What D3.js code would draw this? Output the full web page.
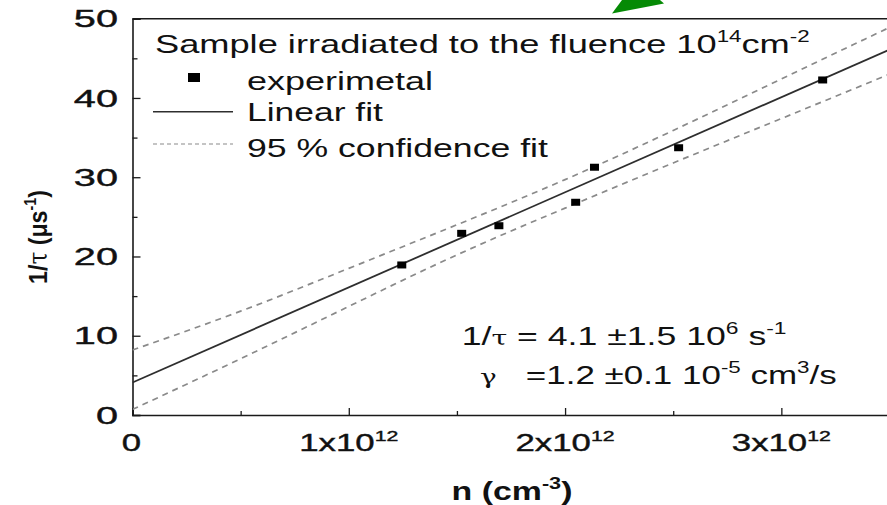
<!DOCTYPE html>
<html>
<head>
<meta charset="utf-8">
<script src="https://cdn.jsdelivr.net/npm/d3@7/dist/d3.min.js"></script>
<style>
  html, body { margin: 0; padding: 0; background: #fff; }
  svg { display: block; }
  text { font-family: "Liberation Sans", Arial, sans-serif; fill: #111; }
  text.tickLabel { stroke: #111; stroke-width: 0.4px; }
</style>
</head>
<body>
<svg id="chart" width="887" height="505"></svg>
<script>
// Carrier density n (units of 10^12 cm^-3) and measured inverse lifetime 1/tau (us^-1)
const nValues = [1.245, 1.522, 1.694, 2.049, 2.136, 2.525, 3.191];
const invTau  = [18.93, 22.92, 23.88, 26.84, 31.26, 33.72, 42.27];

// Linear fit 1/tau = 1/tau0 + gamma * n  (gamma = 1.2e-5 cm^3/s -> 12 us^-1 per 10^12 cm^-3)
const fitIntercept = 4.1;
const fitSlope = 12;

// 95 % confidence band, read at these n positions
const bandN     = [0, 0.5, 1, 1.5, 2, 2.5, 3, 3.5];
const bandUpper = [8.2, 13.1, 18.5, 24.0, 29.7, 35.9, 42.4, 48.9];
const bandLower = [0.7, 7.1, 13.7, 20.2, 26.1, 31.8, 37.4, 43.0];

// Tick values and labels
const xMajorTicks = [0, 1, 2, 3];
const xMinorTicks = [0.5, 1.5, 2.5, 3.5];
const yMajorTicks = [0, 10, 20, 30, 40, 50];
const yMinorTicks = [5, 15, 25, 35, 45];

const legendTitle = ["Sample irradiated to the fluence 10", "14", "cm", "-2"];
const legendLabels = ["experimetal", "Linear fit", "95 % confidence fit"];

const svg = d3.select("#chart");

const x = d3.scaleLinear().domain([0, 3.5]).range([132.5, 889.5]);
const y = d3.scaleLinear().domain([0, 50]).range([415, 18.7]);

// Horizontally stretched text helper: builds the text at the origin, then
// scales it to the wanted width (or by a fixed factor) around its anchor.
function addText(parent, parts, opt) {
  const t = parent.append("text")
    .attr("class", opt.cls || null)
    .attr("text-anchor", opt.anchor || "start")
    .style("font-size", opt.size + "px")
    .style("font-weight", opt.weight || "normal");
  const supSize = Math.round(opt.size * 0.62);
  const lift = Math.round(opt.size * 0.42);
  parts.forEach(p => {
    const ts = t.append("tspan").text(p.t);
    if (p.sup) ts.attr("dy", -lift).style("font-size", supSize + "px");
    if (p.after) ts.attr("dy", lift);
    if (p.font) ts.style("font-family", p.font).style("font-weight", "normal");
    if (p.fs) ts.style("font-size", p.fs + "px");
  });
  const natural = t.node().getComputedTextLength();
  const sx = opt.width ? opt.width / natural : (opt.sx || 1);
  const rot = opt.rotate ? ` rotate(${opt.rotate})` : "";
  t.attr("transform", `translate(${opt.x},${opt.y})${rot} scale(${sx},1)`);
  return t;
}

// Decorative arrow tip entering from above
svg.append("path")
  .attr("d", "M612,13.5 L664,3.5 L660,0 L622,0 Z")
  .attr("fill", "#058a05");

// Axes frame
const axisG = svg.append("g");
axisG.append("line").attr("x1", x(0)).attr("x2", 887).attr("y1", y(50)).attr("y2", y(50))
  .attr("stroke", "#1a1a1a").attr("stroke-width", 1.6);

const yAxis = d3.axisLeft(y).tickValues(yMajorTicks).tickSize(-8).tickFormat("");
axisG.append("g").attr("transform", `translate(${x(0)},0)`).call(yAxis)
  .call(g => g.select(".domain").attr("stroke", "#1a1a1a").attr("stroke-width", 1.6))
  .call(g => g.selectAll(".tick line").attr("stroke", "#1a1a1a").attr("stroke-width", 1.3));
axisG.append("g").attr("transform", `translate(${x(0)},0)`)
  .call(d3.axisLeft(y).tickValues(yMinorTicks).tickSize(-5).tickFormat(""))
  .call(g => g.select(".domain").remove())
  .call(g => g.selectAll(".tick line").attr("stroke", "#1a1a1a").attr("stroke-width", 1.3));

const xAxis = d3.axisBottom(x).tickValues(xMajorTicks).tickSize(-7).tickFormat("");
axisG.append("g").attr("transform", `translate(0,${y(0)})`).call(xAxis)
  .call(g => g.select(".domain").attr("stroke", "#1a1a1a").attr("stroke-width", 1.6))
  .call(g => g.selectAll(".tick line").attr("stroke", "#1a1a1a").attr("stroke-width", 1.3));
axisG.append("g").attr("transform", `translate(0,${y(0)})`)
  .call(d3.axisBottom(x).tickValues(xMinorTicks).tickSize(-4).tickFormat(""))
  .call(g => g.select(".domain").remove())
  .call(g => g.selectAll(".tick line").attr("stroke", "#1a1a1a").attr("stroke-width", 1.3));

// Tick labels
const labG = svg.append("g");
yMajorTicks.forEach(v => {
  addText(labG, [{t: String(v)}], {x: 118, y: y(v) + 8.7, size: 24.5, anchor: "end", sx: 1.62, cls: "tickLabel"});
});
xMajorTicks.forEach(v => {
  const parts = v === 0 ? [{t: "0"}] : [{t: v + "x10"}, {t: "12", sup: true}];
  addText(labG, parts, {x: x(v) + (v === 0 ? -1 : 0), y: 451, size: 24.5, anchor: "middle", sx: 1.42, cls: "tickLabel"});
});

// Axis titles
addText(labG, [{t: "n (cm"}, {t: "-3", sup: true}, {t: ")", after: true}],
  {x: 512, y: 500, size: 25, weight: "bold", anchor: "middle", width: 121});
addText(labG, [{t: "1/"}, {t: "τ", font: "DejaVu Serif"}, {t: " (μs"}, {t: "-1", sup: true}, {t: ")", after: true}],
  {x: 47, y: 237, size: 26, weight: "bold", anchor: "middle", width: 94, rotate: -90});

// Plot content
const plot = svg.append("g");

plot.append("defs").append("clipPath").attr("id", "plotClip")
  .append("rect").attr("x", x(0)).attr("y", y(50)).attr("width", 887 - x(0)).attr("height", y(0) - y(50));

const bandLine = d3.line().x(d => x(d[0])).y(d => y(d[1])).curve(d3.curveNatural);
[bandUpper, bandLower].forEach(vals => {
  plot.append("path")
    .attr("clip-path", "url(#plotClip)")
    .attr("d", bandLine(bandN.map((n, i) => [n, vals[i]])))
    .attr("fill", "none").attr("stroke", "#8a8a8a")
    .attr("stroke-width", 1.7).attr("stroke-dasharray", "6,5");
});

const fitDomain = x.domain();
plot.append("line")
  .attr("clip-path", "url(#plotClip)")
  .attr("x1", x(fitDomain[0])).attr("y1", y(fitIntercept + fitSlope * fitDomain[0]))
  .attr("x2", x(fitDomain[1])).attr("y2", y(fitIntercept + fitSlope * fitDomain[1]))
  .attr("stroke", "#2e2e2e").attr("stroke-width", 1.8);

plot.selectAll("rect.pt").data(nValues.map((n, i) => [n, invTau[i]])).enter()
  .append("rect").attr("class", "pt")
  .attr("x", d => x(d[0]) - 4.5).attr("y", d => y(d[1]) - 3.5)
  .attr("width", 9).attr("height", 7).attr("fill", "#000");

// Legend
const leg = svg.append("g");
addText(leg, [{t: legendTitle[0]}, {t: legendTitle[1], sup: true}, {t: legendTitle[2], after: true}, {t: legendTitle[3], sup: true}],
  {x: 155, y: 53, size: 26, width: 655});
leg.append("rect").attr("x", 188).attr("y", 73).attr("width", 12).attr("height", 9).attr("fill", "#000");
addText(leg, [{t: legendLabels[0]}], {x: 247, y: 89.5, size: 26, width: 186});
leg.append("line").attr("x1", 153).attr("x2", 233).attr("y1", 111.7).attr("y2", 111.7)
  .attr("stroke", "#2e2e2e").attr("stroke-width", 1.6);
addText(leg, [{t: legendLabels[1]}], {x: 247, y: 121, size: 26, width: 136});
leg.append("line").attr("x1", 153).attr("x2", 233).attr("y1", 144).attr("y2", 144)
  .attr("stroke", "#8a8a8a").attr("stroke-width", 1.2).attr("stroke-dasharray", "4,3");
addText(leg, [{t: legendLabels[2]}], {x: 247, y: 157, size: 26, width: 301});

// Fit parameters
addText(leg, [{t: "1/"}, {t: "τ", font: "DejaVu Serif", fs: 20}, {t: " = " + fitIntercept + " ±1.5 10"}, {t: "6", sup: true}, {t: " s", after: true}, {t: "-1", sup: true}],
  {x: 461.7, y: 345, size: 25, width: 325});
addText(leg, [{t: "γ", font: "DejaVu Serif", fs: 20}, {t: "\u00A0\u00A0\u00A0=" + (fitSlope / 10).toFixed(1) + " ±0.1 10"}, {t: "-5", sup: true}, {t: " cm", after: true}, {t: "3", sup: true}, {t: "/s", after: true}],
  {x: 480, y: 384, size: 25, width: 357});
</script>
</body>
</html>
